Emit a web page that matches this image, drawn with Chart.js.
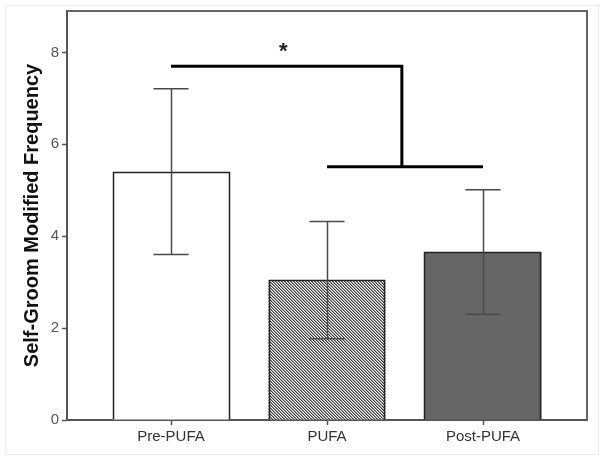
<!DOCTYPE html>
<html>
<head>
<meta charset="utf-8">
<script src="https://cdn.jsdelivr.net/npm/chart.js@4/dist/chart.umd.min.js"></script>
<style>
  html, body { margin: 0; padding: 0; background: #fff; }
  canvas { display: block; }
</style>
</head>
<body>
<canvas id="c" width="604" height="461"></canvas>
<script>
// ---- data ----
const categories = ['Pre-PUFA', 'PUFA', 'Post-PUFA'];
const means = [5.40, 3.04, 3.65];
const errLow = [3.60, 1.77, 2.30];
const errHigh = [7.21, 4.32, 5.01];
const yTicks = [0, 2, 4, 6, 8];
const yMax = 8.9;
const yTitle = 'Self-Groom Modified Frequency';
// significance bracket (data units): upper line, drop, lower line
const bracketUpperX = [0, 1.48];
const bracketUpperY = 7.70;
const bracketLowerX = [1, 2];
const bracketLowerY = 5.51;
const starLabel = '*';
const starPos = [0.72, 8.09];

// ---- styles ----
function hatchPattern() {
  const n = 3;
  const t = document.createElement('canvas');
  t.width = n; t.height = n;
  const g = t.getContext('2d');
  g.fillStyle = '#ffffff';
  g.fillRect(0, 0, n, n);
  for (let i = 0; i < n; i++) {
    g.fillStyle = '#3a3a3a';
    g.fillRect(i, i, 1, 1);
    g.fillStyle = '#9a9a9a';
    g.fillRect((i + 1) % n, i, 1, 1);
  }
  return g.createPattern(t, 'repeat');
}
const ctx0 = document.getElementById('c').getContext('2d');
const barFills = ['#ffffff', hatchPattern(), '#666666'];
const FONT = "'Liberation Sans', Arial, sans-serif";
const TICK = 5;

const overlay = {
  id: 'overlay',
  beforeDraw(chart) {
    const c = chart.ctx;
    c.save();
    c.strokeStyle = '#ececec';
    c.lineWidth = 1;
    c.strokeRect(5.5, 5.5, 593, 449);
    c.restore();
  },
  afterDatasetsDraw(chart) {
    const c = chart.ctx;
    const xs = chart.scales.x, ys = chart.scales.y;
    const a = chart.chartArea;
    c.save();
    // plot frame top & right
    c.strokeStyle = '#666';
    c.lineWidth = 2;
    c.beginPath();
    c.moveTo(a.left, a.top);
    c.lineTo(a.right, a.top);
    c.lineTo(a.right, a.bottom);
    c.stroke();
    // axis tick marks
    c.strokeStyle = '#555';
    c.lineWidth = 1.5;
    c.beginPath();
    xs.ticks.forEach(t => {
      const x = Math.round(xs.getPixelForValue(t.value)) + 0.5;
      c.moveTo(x, a.bottom); c.lineTo(x, a.bottom + TICK);
    });
    ys.ticks.forEach(t => {
      const y = Math.round(ys.getPixelForValue(t.value)) + 0.5;
      c.moveTo(a.left, y); c.lineTo(a.left - TICK, y);
    });
    c.stroke();
    // bar outlines
    const meta = chart.getDatasetMeta(0);
    c.strokeStyle = '#222';
    c.lineWidth = 1.5;
    meta.data.forEach(b => {
      const l = Math.round(b.x - b.width / 2) + 0.5;
      const r = Math.round(b.x + b.width / 2) - 0.5;
      const t = Math.round(b.y) + 0.5;
      c.beginPath();
      c.moveTo(l, b.base); c.lineTo(l, t); c.lineTo(r, t); c.lineTo(r, b.base);
      c.stroke();
    });
    // error bars
    c.strokeStyle = '#4a4a4a';
    c.lineWidth = 1.5;
    categories.forEach((cat, i) => {
      const x = xs.getPixelForValue(i);
      const yl = ys.getPixelForValue(errLow[i]);
      const yh = ys.getPixelForValue(errHigh[i]);
      const half = meta.data[i].width * 0.15;
      c.beginPath();
      c.moveTo(Math.round(x) + 0.5, yl);
      c.lineTo(Math.round(x) + 0.5, yh);
      c.moveTo(x - half, yh); c.lineTo(x + half, yh);
      c.moveTo(x - half, yl); c.lineTo(x + half, yl);
      c.stroke();
    });
    // bracket
    c.strokeStyle = '#000';
    c.lineWidth = 3;
    const ux0 = xs.getPixelForValue(bracketUpperX[0]);
    const ux1 = xs.getPixelForValue(bracketUpperX[1]);
    const uy = ys.getPixelForValue(bracketUpperY);
    const ly = ys.getPixelForValue(bracketLowerY);
    c.beginPath();
    c.moveTo(ux0, uy); c.lineTo(ux1, uy); c.lineTo(ux1, ly);
    c.stroke();
    c.beginPath();
    c.moveTo(xs.getPixelForValue(bracketLowerX[0]), ly);
    c.lineTo(xs.getPixelForValue(bracketLowerX[1]), ly);
    c.stroke();
    // star
    c.fillStyle = '#222';
    c.font = 'bold 22px ' + FONT;
    c.textAlign = 'center';
    c.textBaseline = 'middle';
    c.fillText(starLabel, xs.getPixelForValue(starPos[0]), ys.getPixelForValue(starPos[1]) + 4);
    c.restore();
  }
};

new Chart(ctx0, {
  type: 'bar',
  data: {
    datasets: [{
      data: categories.map((c, i) => ({ x: i, y: means[i] })),
      backgroundColor: barFills,
      borderWidth: 0,
      barPercentage: 0.75,
      categoryPercentage: 1.0
    }]
  },
  options: {
    responsive: false,
    devicePixelRatio: 1,
    animation: false,
    layout: { padding: { top: 11, right: 17, left: 0, bottom: 0 } },
    plugins: { legend: { display: false }, tooltip: { enabled: false } },
    scales: {
      x: {
        type: 'linear',
        offset: false,
        min: -0.667,
        max: 2.667,
        afterBuildTicks: s => { s.ticks = categories.map((c, i) => ({ value: i })); },
        afterFit: s => { s.height = 41; s.paddingLeft = 0; s.paddingRight = 0; },
        grid: { offset: false, drawOnChartArea: false, drawTicks: false },
        border: { display: true, color: '#555', width: 2 },
        ticks: {
          autoSkip: false,
          maxRotation: 0,
          padding: 8,
          color: '#333',
          font: { family: FONT, size: 15 },
          callback: v => categories[v]
        }
      },
      y: {
        min: 0,
        max: yMax,
        afterBuildTicks: s => { s.ticks = yTicks.map(v => ({ value: v })); },
        afterFit: s => { s.width = 67; s.paddingTop = 0; s.paddingBottom = 0; },
        grid: { drawOnChartArea: false, drawTicks: false },
        border: { display: true, color: '#555', width: 2 },
        ticks: {
          padding: 8,
          color: '#555',
          font: { family: FONT, size: 15 }
        },
        title: {
          display: true,
          text: yTitle,
          color: '#111',
          font: { family: FONT, size: 20, weight: 'bold' },
          padding: { top: 20, bottom: 0 }
        }
      }
    }
  },
  plugins: [overlay]
});
</script>
</body>
</html>
